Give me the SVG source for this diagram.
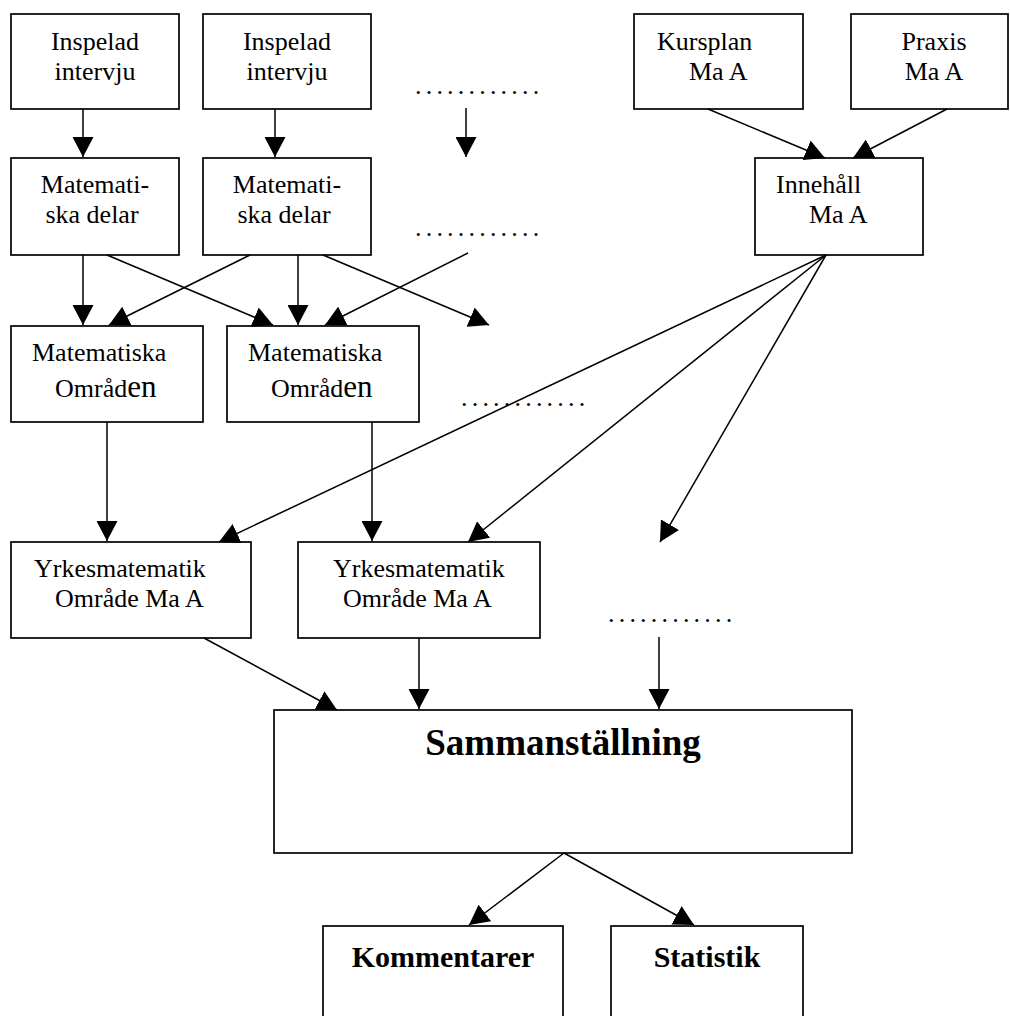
<svg xmlns="http://www.w3.org/2000/svg" width="1010" height="1016" viewBox="0 0 1010 1016">
<style>
.box{fill:#fff;stroke:#000;stroke-width:1.7}
.t{font-family:"Liberation Serif","Times New Roman",serif;font-size:26px;fill:#000}
.c{text-anchor:middle}
.b{font-weight:bold}
.big{font-size:37px}
.mid{font-size:30px}
.dots{font-family:"Liberation Serif","Times New Roman",serif;font-size:26px;letter-spacing:4.2px;fill:#000}
.ln{stroke:#000;stroke-width:1.5;fill:none;marker-end:url(#ah)}
</style>
<defs>
<marker id="ah" markerUnits="userSpaceOnUse" markerWidth="21" markerHeight="21" refX="20" refY="10.5" orient="auto">
<path d="M0,0 L20,10.5 L0,21 z" fill="#000"/>
</marker>
</defs>
<rect width="1010" height="1016" fill="#fff"/>

<g id="n_insp1"><rect class="box" x="11" y="14" width="168" height="95"/><text class="t c" x="95" y="50">Inspelad</text><text class="t c" x="95" y="80">intervju</text></g>
<g id="n_insp2"><rect class="box" x="203" y="14" width="168" height="95"/><text class="t c" x="287" y="50">Inspelad</text><text class="t c" x="287" y="80">intervju</text></g>
<g id="n_kurs"><rect class="box" x="634" y="14" width="169" height="95"/><text class="t" x="657" y="50">Kursplan</text><text class="t" x="689" y="80">Ma A</text></g>
<g id="n_praxis"><rect class="box" x="851" y="14" width="157" height="95"/><text class="t c" x="934" y="50">Praxis</text><text class="t c" x="934" y="80">Ma A</text></g>

<g id="n_mat1"><rect class="box" x="11" y="158" width="168" height="97"/><text class="t c" x="95" y="193">Matemati-</text><text class="t c" x="92" y="223">ska delar</text></g>
<g id="n_mat2"><rect class="box" x="203" y="158" width="168" height="97"/><text class="t c" x="287" y="193">Matemati-</text><text class="t c" x="284" y="223">ska delar</text></g>
<g id="n_inne"><rect class="box" x="755" y="158" width="168" height="97"/><text class="t" x="776" y="193">Innehåll</text><text class="t" x="809" y="223">Ma A</text></g>

<g id="n_omr1"><rect class="box" x="11" y="326" width="192" height="96"/><text class="t" x="32" y="361">Matematiska</text><text class="t" x="55" y="397">Områd<tspan style="font-size:31px">en</tspan></text></g>
<g id="n_omr2"><rect class="box" x="227" y="326" width="192" height="96"/><text class="t" x="248" y="361">Matematiska</text><text class="t" x="271" y="397">Områd<tspan style="font-size:31px">en</tspan></text></g>

<g id="n_yrk1"><rect class="box" x="11" y="542" width="240" height="96"/><text class="t" x="34" y="577">Yrkesmatematik</text><text class="t" x="55" y="607">Område Ma A</text></g>
<g id="n_yrk2"><rect class="box" x="298" y="542" width="242" height="96"/><text class="t" x="333" y="577">Yrkesmatematik</text><text class="t" x="343" y="607">Område Ma A</text></g>

<g id="n_samm"><rect class="box" x="274" y="710" width="578" height="143"/><text class="t c b big" x="563" y="755">Sammanställning</text></g>
<g id="n_komm"><rect class="box" x="323" y="926" width="240" height="100"/><text class="t c b mid" x="443" y="967">Kommentarer</text></g>
<g id="n_stat"><rect class="box" x="611" y="926" width="192" height="100"/><text class="t c b mid" x="707" y="967">Statistik</text></g>

<g id="dots">
<text class="dots" x="415" y="94">............</text>
<text class="dots" x="415" y="236">............</text>
<text class="dots" x="461" y="406">............</text>
<text class="dots" x="608" y="622">............</text>
</g>

<g id="connectors">
<line class="ln" x1="83" y1="109" x2="83" y2="157"/>
<line class="ln" x1="275" y1="109" x2="275" y2="157"/>
<line class="ln" x1="466" y1="108" x2="466" y2="157"/>
<line class="ln" x1="708" y1="109" x2="825" y2="158"/>
<line class="ln" x1="947" y1="109" x2="853" y2="158"/>

<line class="ln" x1="83" y1="255" x2="83" y2="325"/>
<line class="ln" x1="107" y1="255" x2="273" y2="325"/>
<line class="ln" x1="250" y1="255" x2="109" y2="325"/>
<line class="ln" x1="298" y1="255" x2="298" y2="325"/>
<line class="ln" x1="323" y1="255" x2="489" y2="325"/>
<line class="ln" x1="468" y1="253" x2="325" y2="325"/>

<line class="ln" x1="107" y1="422" x2="107" y2="541"/>
<line class="ln" x1="372" y1="422" x2="372" y2="541"/>
<line class="ln" x1="826" y1="255" x2="219" y2="542"/>
<line class="ln" x1="826" y1="255" x2="468" y2="542"/>
<line class="ln" x1="826" y1="255" x2="660" y2="542"/>

<line class="ln" x1="204" y1="638" x2="337" y2="710"/>
<line class="ln" x1="419" y1="638" x2="419" y2="709"/>
<line class="ln" x1="659" y1="637" x2="659" y2="709"/>

<line class="ln" x1="564" y1="853" x2="469" y2="925"/>
<line class="ln" x1="564" y1="853" x2="694" y2="925"/>
</g>
</svg>
